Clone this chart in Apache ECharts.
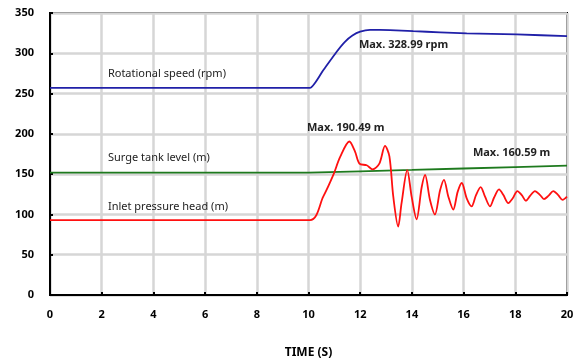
<!DOCTYPE html>
<html><head><meta charset="utf-8">
<script src="https://cdn.jsdelivr.net/npm/echarts@6/dist/echarts.min.js"></script>
<style>html,body{margin:0;padding:0;background:#fff}#c{width:581px;height:361px}</style>
</head><body><div id="c"></div>
<script>
var xTicks = [0, 2, 4, 6, 8, 10, 12, 14, 16, 18, 20];
var yTicks = [0, 50, 100, 150, 200, 250, 300, 350];

var speedT = [0, 10.06, 10.57, 11.09, 11.4, 11.7, 12.0, 12.38, 13.15, 14.05, 15.09, 16.12, 18.05, 20];
var speedV = [257, 257, 279, 302, 314, 322, 326.8, 328.99, 328.8, 327.5, 326, 324.6, 323.4, 321.3];

var tankT = [0, 10, 12, 14, 16, 18, 20];
var tankV = [152, 152, 153.5, 155.2, 157, 158.8, 160.59];

var inletT = [0, 10.06, 10.57, 10.96, 11.22, 11.58, 11.8, 11.97, 12.25, 12.48, 12.74, 12.96, 13.13, 13.28, 13.47, 13.6, 13.82, 13.99, 14.18, 14.38, 14.51, 14.7, 14.89, 15.09, 15.24, 15.41, 15.6, 15.77, 15.93, 16.12, 16.31, 16.48, 16.66, 16.83, 17.02, 17.18, 17.37, 17.54, 17.73, 17.9, 18.08, 18.25, 18.41, 18.57, 18.76, 18.96, 19.11, 19.28, 19.47, 19.66, 19.83, 20];
var inletV = [93, 93, 122, 149, 171, 190.49, 178, 163, 161, 156, 163, 185, 172, 122, 85, 114, 155, 122, 94, 134, 149, 118, 100, 130, 143, 122, 106, 128, 139, 120, 110, 124, 134, 122, 110, 121, 131, 124, 114, 120, 129, 124, 117, 123, 129, 124, 119, 123, 129, 124, 118, 122];

var annotations = [
  {name: 'Rotational speed (rpm)', coord: [2.24, 274], bold: false},
  {name: 'Surge tank level (m)', coord: [2.24, 170], bold: false},
  {name: 'Inlet pressure head (m)', coord: [2.24, 110], bold: false},
  {name: 'Max. 328.99 rpm', coord: [11.95, 310], bold: true},
  {name: 'Max. 190.49 m', coord: [9.94, 207], bold: true},
  {name: 'Max. 160.59 m', coord: [16.36, 176], bold: true}
];

function pairs(t, v) { return t.map(function (x, i) { return [x, v[i]]; }); }

var font = '"Noto Sans", "Open Sans", sans-serif';
var chart = echarts.init(document.getElementById('c'));
chart.setOption({
  animation: false,
  backgroundColor: '#fff',
  grid: {left: 50, right: 14, top: 13, bottom: 66, show: true, borderColor: '#000', borderWidth: 2,
    containLabel: false, outerBoundsMode: 'none'},
  xAxis: {
    type: 'value', min: 0, max: 20, interval: 2,
    name: 'TIME (S)', nameLocation: 'middle', nameGap: 52,
    nameTextStyle: {fontFamily: font, fontWeight: 'bold', fontSize: 12, color: '#000'},
    axisLine: {show: true, lineStyle: {color: '#000', width: 2}},
    axisTick: {show: true, inside: true, length: 3, lineStyle: {color: '#000', width: 2}},
    axisLabel: {margin: 14, fontFamily: font, fontWeight: 'bold', fontSize: 11, color: '#000',
      formatter: function (v) { return xTicks.indexOf(v) >= 0 ? String(v) : ''; }},
    splitLine: {show: true, lineStyle: {color: '#d6d6d6', width: 2.5}}
  },
  yAxis: {
    type: 'value', min: 0, max: 350, interval: 50,
    axisLine: {show: true, lineStyle: {color: '#000', width: 2}},
    axisTick: {show: true, inside: true, length: 3, lineStyle: {color: '#000', width: 2}},
    axisLabel: {margin: 16, fontFamily: font, fontWeight: 'bold', fontSize: 11, color: '#000',
      formatter: function (v) { return yTicks.indexOf(v) >= 0 ? String(v) : ''; }},
    splitLine: {show: true, lineStyle: {color: '#d6d6d6', width: 2.5}}
  },
  series: [
    {type: 'line', data: pairs(speedT, speedV), showSymbol: false, smooth: 0.15,
      lineStyle: {color: '#2020a8', width: 1.8}, z: 3},
    {type: 'line', data: pairs(tankT, tankV), showSymbol: false,
      lineStyle: {color: '#1e7a1e', width: 1.8}, z: 3},
    {type: 'line', data: pairs(inletT, inletV), showSymbol: false, smooth: 0.3,
      lineStyle: {color: '#ff1010', width: 1.8}, z: 4,
      markPoint: {
        symbol: 'circle', symbolSize: 0, silent: true,
        data: annotations.map(function (a) {
          return {name: a.name, coord: a.coord,
            label: {show: true, position: 'right', distance: 0, formatter: a.name,
              fontFamily: font, fontSize: 11, fontWeight: a.bold ? 'bold' : 'normal', color: '#222'}};
        })
      }}
  ]
});
</script></body></html>
